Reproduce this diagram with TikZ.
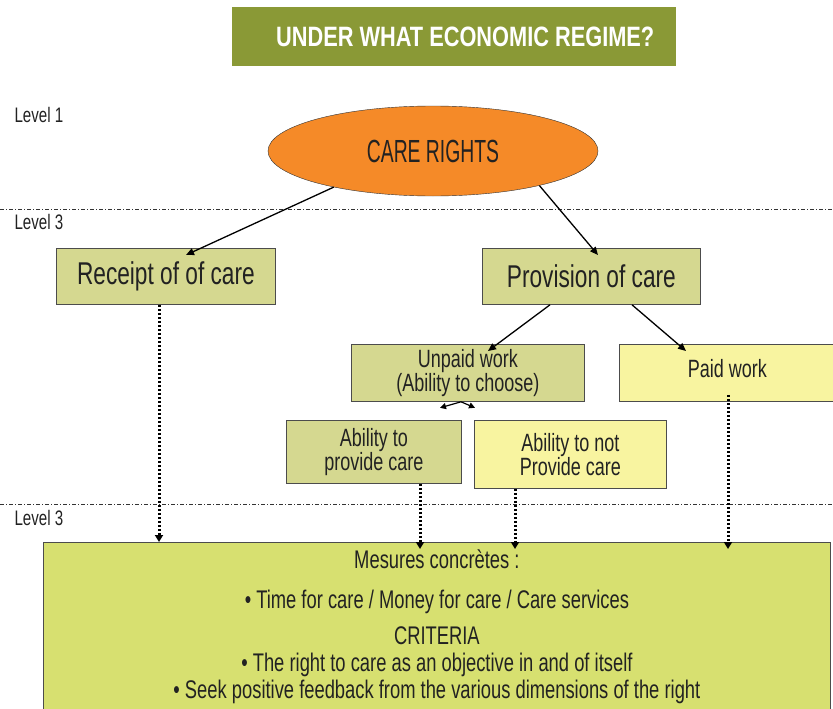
\documentclass[tikz,border=0pt]{standalone}
\usepackage{fontspec}
\setmainfont{Liberation Sans}[FakeStretch=0.72]
\usepackage{tikz}
\usetikzlibrary{shapes.geometric, arrows.meta, positioning}

\definecolor{titlegreen}{HTML}{8A9936}
\definecolor{careorange}{HTML}{F58A28}
\definecolor{khaki}{HTML}{D5D890}
\definecolor{paleyellow}{HTML}{F8F4A0}
\definecolor{limegreen}{HTML}{D7E070}
\definecolor{inkgray}{HTML}{222222}

\tikzset{
  levelline/.style={dash pattern=on 4pt off 2pt on 1pt off 2pt, line width=1pt, black!80},
  leveltext/.style={anchor=west, font=\fontsize{21}{23}\selectfont, text=inkgray},
  box/.style={draw=black!70, line width=0.8pt, anchor=north west, align=center, inner sep=0pt, text=inkgray},
  bigtext/.style={font=\fontsize{31.5}{33}\selectfont},
  smalltext/.style={font=\fontsize{25}{24}\selectfont},
  arrow/.style={-{Triangle[length=8pt,width=7pt]}, line width=1.3pt},
  dotarrow/.style={-{Triangle[length=7pt,width=8pt]}, dash pattern=on 2.5pt off 1.5pt, line width=3pt}
}

\begin{document}
\begin{tikzpicture}[x=1pt, y=-1pt]
\useasboundingbox (0,0) rectangle (833,709);

% title
\node[fill=titlegreen, text=white, minimum width=444pt, minimum height=59pt, anchor=north west,
      font=\bfseries\fontsize{28}{30}\selectfont] (title) at (232,7)
      {\hspace*{22pt}\scalebox{1.08}[1]{UNDER WHAT ECONOMIC REGIME?}};

% levels
\node[leveltext] (lev1) at (11,115) {Level 1};
\node[leveltext] (lev3a) at (11,222) {Level 3};
\node[leveltext] (lev3b) at (11,518) {Level 3};
\coordinate (la1) at (0,209);
\coordinate (la2) at (833,209);
\coordinate (lb1) at (0,504);
\coordinate (lb2) at (833,504);
\draw[levelline] (la1) -- (la2);
\draw[levelline] (lb1) -- (lb2);

% level 1
\node[ellipse, draw=black!80, fill=careorange, minimum width=330pt, minimum height=90pt, text=inkgray,
      font=\fontsize{32}{34}\selectfont] (rights) at (433,151) {\scalebox{0.84}[1]{CARE RIGHTS}};

% level 2
\node[box, fill=khaki, minimum width=219pt, minimum height=56pt, bigtext]
  (receipt) at (56,248) {Receipt of of care};
\node[box, fill=khaki, minimum width=218pt, minimum height=56pt, bigtext]
  (provision) at (482,248) {Provision of care};

\node[box, fill=khaki, minimum width=233pt, minimum height=57pt, smalltext]
  (unpaid) at (351,344) {Unpaid work\\(Ability to choose)};
\node[box, fill=paleyellow, minimum width=216pt, minimum height=57pt, smalltext]
  (paid) at (619,344) {\raisebox{8pt}{Paid work}};

\node[box, fill=khaki, minimum width=175pt, minimum height=63pt, smalltext]
  (provide) at (286,420) {Ability to\\provide care};
\node[box, fill=paleyellow, minimum width=192pt, minimum height=68pt, smalltext]
  (notprovide) at (474,420) {\raisebox{-3pt}{\parbox{170pt}{\centering Ability to not\\Provide care}}};

% measures
\node[box, fill=limegreen, minimum width=787pt, minimum height=175pt]
  (measures) at (43,542) {};
\node[below=4pt of measures.north, font=\fontsize{25.5}{27}\selectfont, align=center, text=inkgray] (mtext)
  {Mesures concrètes :\\[13pt]
   • Time for care / Money for care / Care services\\[9pt]
   CRITERIA\\
   • The right to care as an objective in and of itself\\
   • Seek positive feedback from the various dimensions of the right};

% arrows
\draw[arrow] (rights.200) -- ([xshift=130pt,yshift=-7pt]receipt.north west);
\draw[arrow] (rights.-18) -- ([xshift=116pt,yshift=-7pt]provision.north west);
\draw[arrow] ([xshift=68pt]provision.south west) -- ([xshift=137pt,yshift=-7pt]unpaid.north west);
\draw[arrow] ([xshift=150pt]provision.south west) -- ([xshift=67pt,yshift=-7pt]paid.north west);
\draw[-{Triangle[length=6pt,width=6pt]}, line width=1.2pt] ([xshift=110pt]unpaid.south west) -- ([xshift=89pt,yshift=-6pt]unpaid.south west);
\draw[-{Triangle[length=6pt,width=6pt]}, line width=1.2pt] ([xshift=110pt]unpaid.south west) -- ([xshift=124pt,yshift=-6pt]unpaid.south west);

% dotted arrows
\draw[dotarrow] ([xshift=103pt]receipt.south west) -- ([xshift=116pt]measures.north west);
\draw[dotarrow] ([xshift=134pt]provide.south west) -- ([xshift=134pt,yshift=-7pt]provide.south west |- measures.north);
\draw[dotarrow] ([xshift=41pt]notprovide.south west) -- ([xshift=41pt,yshift=-7pt]notprovide.south west |- measures.north);
\draw[dotarrow] ([xshift=109pt,yshift=7pt]paid.south west) -- ([xshift=109pt,yshift=-7pt]paid.south west |- measures.north);
\end{tikzpicture}
\end{document}
